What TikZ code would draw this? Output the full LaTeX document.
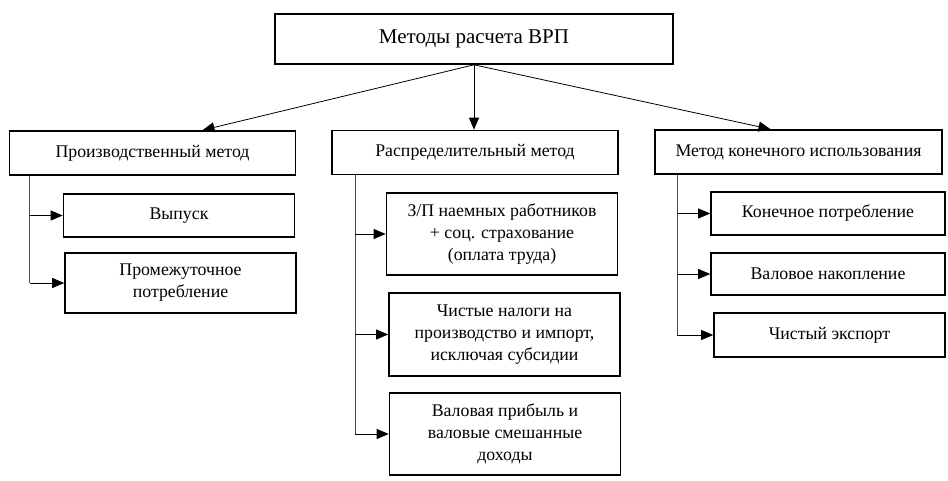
\documentclass[tikz,border=0pt]{standalone}
\usepackage{fontspec}
\setmainfont{Liberation Serif}
\usepackage{tikz}
\usetikzlibrary{arrows.meta}

\begin{document}
\begin{tikzpicture}[
  x=1pt, y=-1pt,
  font=\fontsize{17.8}{22}\selectfont,
  box/.style={draw=black, line width=1.6pt, align=center,
    inner sep=2pt, minimum width=231pt},
  head/.style={box, minimum width=286pt, minimum height=44pt},
  flow/.style={-{Triangle[length=12pt,width=10pt]}, line width=0.8pt, draw=black},
  branch/.style={line width=0.8pt, draw=black!70}
]
\useasboundingbox (0,0) rectangle (948,481);

\node[box, minimum width=398pt, minimum height=50pt,
  font=\fontsize{21}{24}\selectfont] (vrp) at (474,39) {Методы расчета ВРП};

\node[head] (prod) at (152.5,153) {Производственный метод};
\node[head] (distr) at (475,152.5) {Распределительный метод};
\node[head, minimum width=287pt] (final) at (798.5,152) {Метод конечного использования};

\draw[flow] (vrp.south) -- ([xshift=50pt]prod.north);
\draw[flow] (vrp.south) -- (vrp.south |- distr.north);
\draw[flow] (vrp.south) -- ([xshift=-28pt]final.north);

% production method
\node[box, minimum height=43pt] (output) at (179,215.5) {Выпуск};
\node[box, minimum height=60pt] (interm) at (180.5,283) {Промежуточное\\потребление};
\coordinate (prodtop) at ([xshift=21pt]prod.south west);
\draw[branch] (prodtop) -- (prodtop |- interm.west);
\draw[flow] (prodtop |- output.west) -- (output.west);
\draw[flow] (prodtop |- interm.west) -- (interm.west);

% distribution method
\node[box, minimum height=82pt] (wages) at (502,234)
  {З/П наемных работников\\+ соц. страхование\\(оплата труда)};
\node[box, minimum height=83pt] (taxes) at (504.5,334.5)
  {Чистые налоги на\\производство и импорт,\\исключая субсидии};
\node[box, minimum height=82pt] (profit) at (505,434)
  {Валовая прибыль и\\валовые смешанные\\доходы};
\coordinate (distrtop) at ([xshift=24pt]distr.south west);
\draw[branch] (distrtop) -- (distrtop |- profit.west);
\draw[flow] (distrtop |- wages.west) -- (wages.west);
\draw[flow] (distrtop |- taxes.west) -- (taxes.west);
\draw[flow] (distrtop |- profit.west) -- (profit.west);

% final use method
\node[box, minimum width=234pt, minimum height=43pt] (consum) at (828,213.5) {Конечное потребление};
\node[box, minimum width=234pt, minimum height=42pt] (accum) at (828,274) {Валовое накопление};
\node[box, minimum height=44pt] (export) at (829.5,335) {Чистый экспорт};
\coordinate (finaltop) at ([xshift=23pt]final.south west);
\draw[branch] (finaltop) -- (finaltop |- export.west);
\draw[flow] (finaltop |- consum.west) -- (consum.west);
\draw[flow] (finaltop |- accum.west) -- (accum.west);
\draw[flow] (finaltop |- export.west) -- (export.west);
\end{tikzpicture}
\end{document}
